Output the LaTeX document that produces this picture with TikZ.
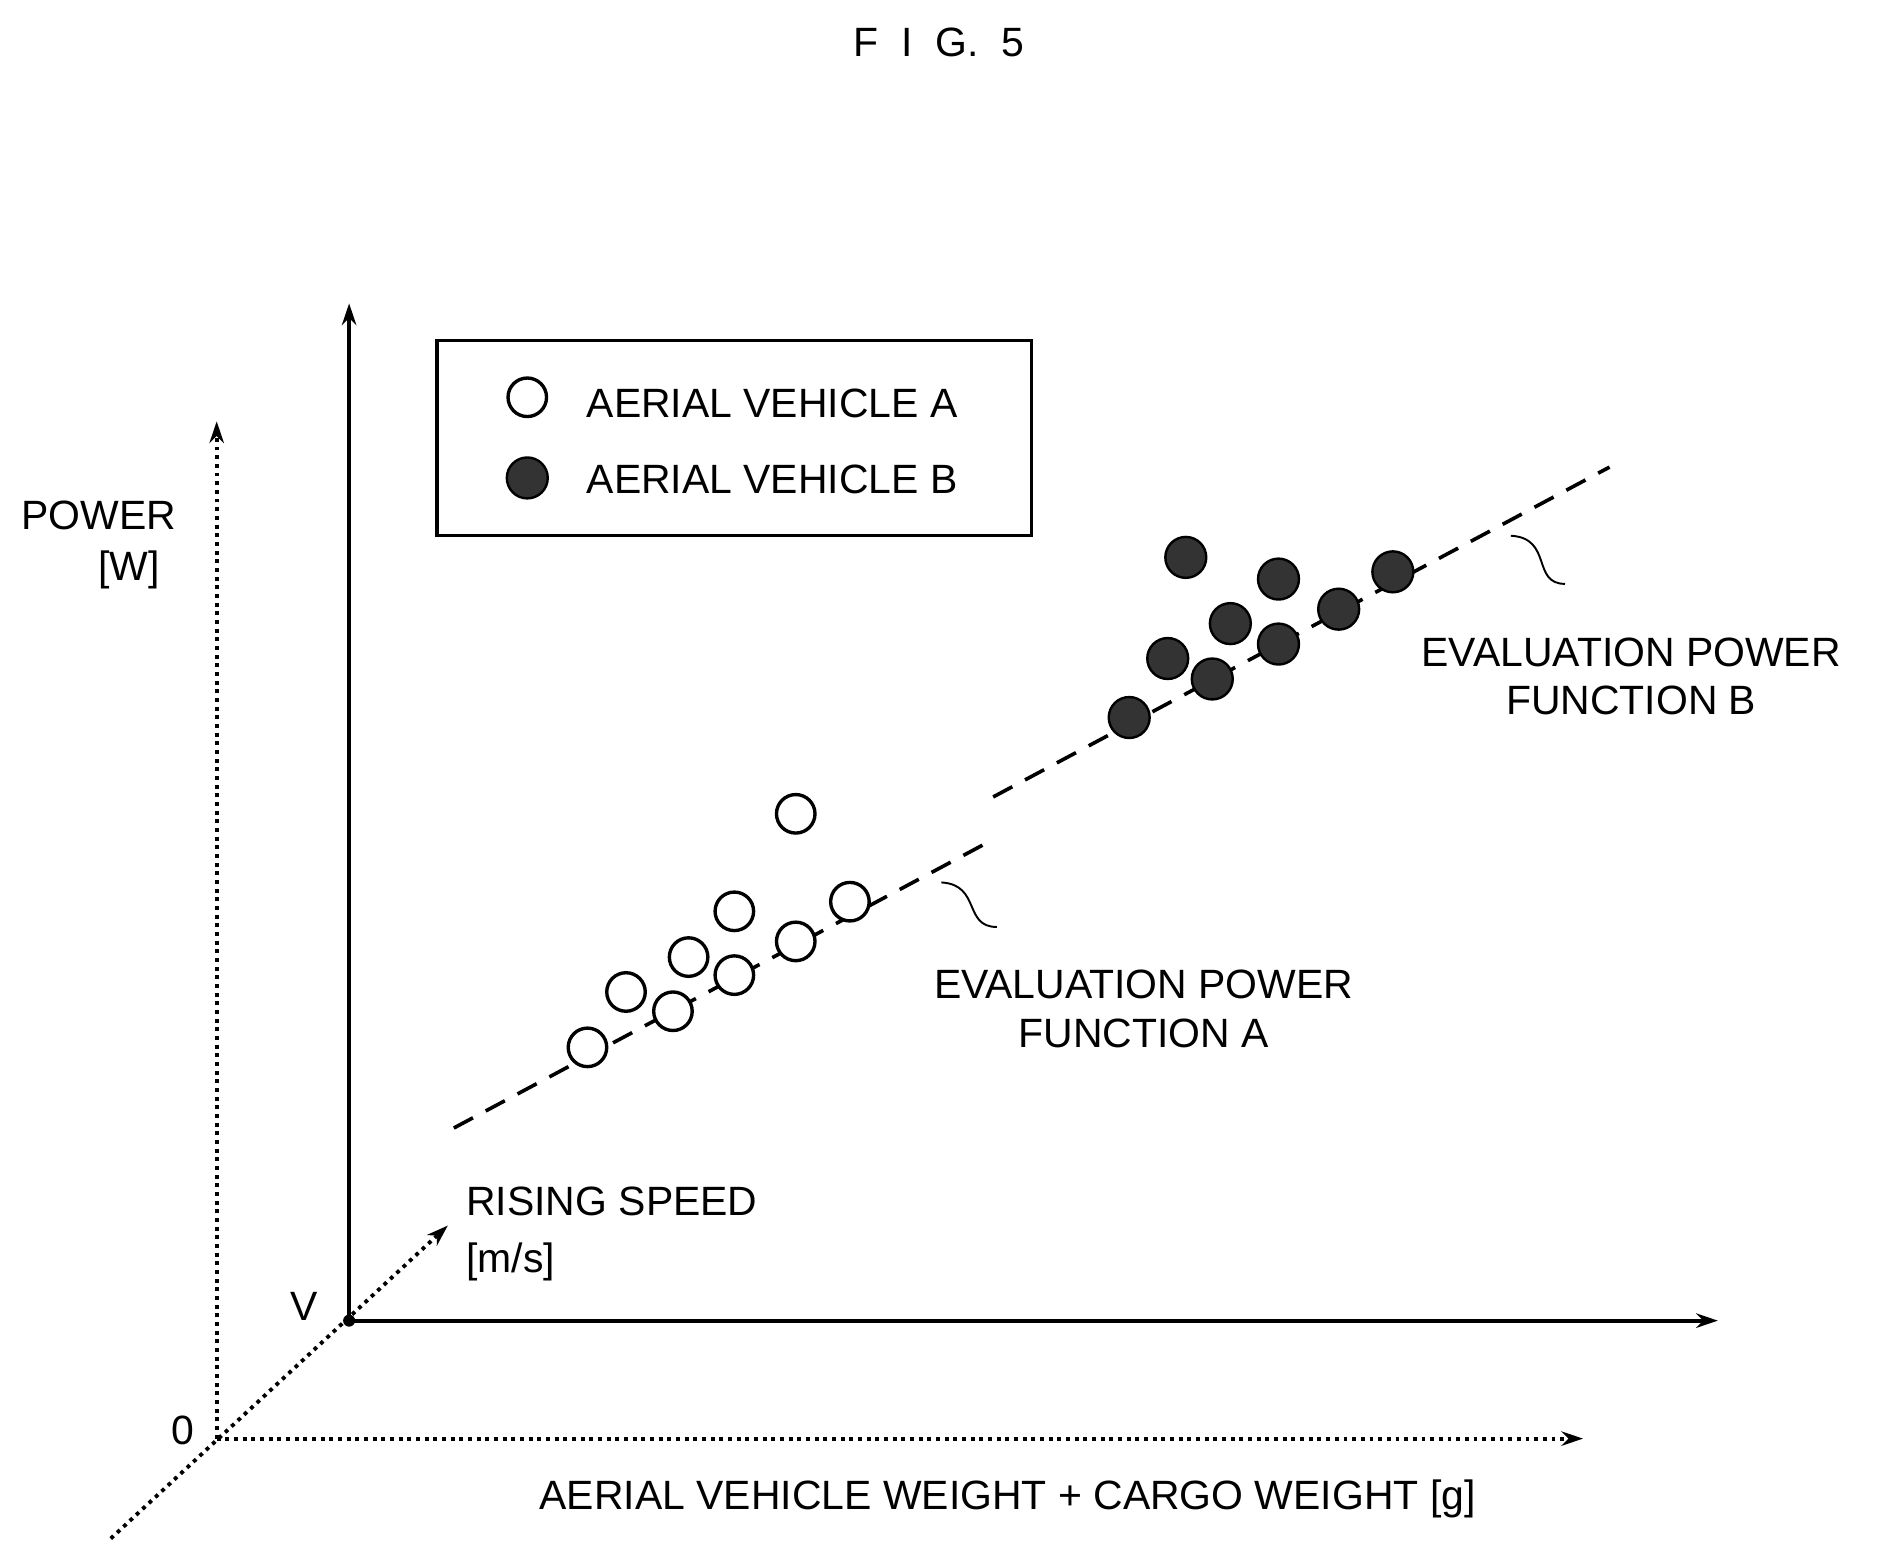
\documentclass[tikz,border=0pt]{standalone}
\usepackage{fontspec}
\setmainfont{Liberation Sans}
\usetikzlibrary{arrows.meta}
\begin{document}
\begin{tikzpicture}[x=0.5pt,y=-0.5pt,
  lbl/.style={font=\fontsize{17}{20}\selectfont,inner sep=0pt},
  axis/.style={line width=1.6pt,-{Stealth[length=9pt,width=6pt]}},
  daxis/.style={line width=1.6pt,dotted,-{Stealth[length=9pt,width=6pt]}},
  fitline/.style={line width=1.5pt,dash pattern=on 9pt off 6pt},
  odot/.style={circle,draw,line width=1.4pt,fill=white,minimum size=16pt,inner sep=0pt},
  fdot/.style={circle,draw,line width=1pt,fill=black!80,minimum size=17pt,inner sep=0pt}]
\useasboundingbox (0,0) rectangle (1560,1292);
\node[lbl] (title) at (780,35) {F\ \ I\ \ G.\ \ 5};
% axes
\coordinate (O) at (180,1195); \coordinate (V) at (290,1097);
\coordinate (dy) at (180,350); \coordinate (dx) at (1315,1195);
\coordinate (dz0) at (92,1278); \coordinate (dz) at (372,1018);
\coordinate (sy) at (290,252); \coordinate (sx) at (1427,1097);
\draw[daxis] (O) -- (dy);
\draw[daxis] (O) -- (dx);
\draw[daxis] (dz0) -- (dz);
\draw[axis] (V) -- (sy);
\draw[axis] (V) -- (sx);
\fill (V) circle (2.5pt);
\node[lbl] (pw) at (82,428) {POWER};
\node[lbl] (pwu) at (107,473) {[W]};
\node[lbl] (zero) at (152,1188) {0};
\node[lbl] (vv) at (253,1085) {V};
\node[lbl,anchor=west] (rs) at (387,998) {RISING SPEED};
\node[lbl,anchor=west] (rsu) at (387,1048) {[m/s]};
\node[lbl] (xl) at (837,1245) {AERIAL VEHICLE WEIGHT + CARGO WEIGHT [g]};
% legend
\draw[line width=1.4pt] (363,283) rectangle (857,445);
\node[odot] (la) at (438,330) {};
\node[fdot] (lb) at (438,397) {};
\node[lbl,anchor=west] (lta) at (487,335) {AERIAL VEHICLE A};
\node[lbl,anchor=west] (ltb) at (487,398) {AERIAL VEHICLE B};
% lines
\coordinate (a0) at (377,937); \coordinate (a1) at (820,700);
\coordinate (b0) at (825,662); \coordinate (b1) at (1337,388);
\draw[fitline] (a0) -- (a1);
\draw[fitline] (b0) -- (b1);
% points
\foreach \p [count=\i] in {(488,870),(520,824),(559,840),(572,795),(610,810),(610,757),(661,782),(661,676),(706,749)}
  \node[odot] (oa\i) at \p {};
\foreach \p [count=\i] in {(938,596),(970,547),(1007,564),(1022,518),(1062,535),(985,463),(1062,481),(1112,506),(1157,475)}
  \node[fdot] (fb\i) at \p {};
% leaders
\coordinate (sa0) at (782,733); \coordinate (sa1) at (828,770);
\coordinate (sb0) at (1255,445); \coordinate (sb1) at (1300,485);
\draw[line width=0.8pt] (sa0) .. controls (815,735) and (800,770) .. (sa1);
\draw[line width=0.8pt] (sb0) .. controls (1290,447) and (1272,485) .. (sb1);
\node[lbl] (ea1) at (950,818) {EVALUATION POWER};
\node[lbl] (ea2) at (950,858) {FUNCTION A};
\node[lbl] (eb1) at (1355,542) {EVALUATION POWER};
\node[lbl] (eb2) at (1355,582) {FUNCTION B};
\end{tikzpicture}
\end{document}
